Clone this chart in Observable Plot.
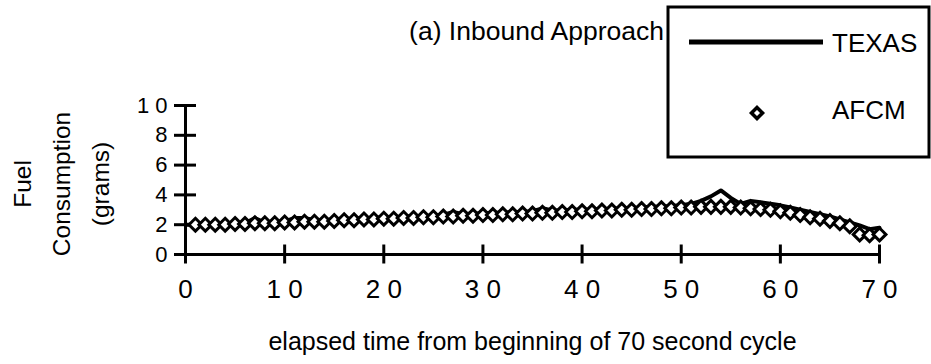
<!DOCTYPE html>
<html><head><meta charset="utf-8">
<script src="https://cdn.jsdelivr.net/npm/d3@7"></script>
<script src="https://cdn.jsdelivr.net/npm/@observablehq/plot@0.6"></script>
<style>html,body{margin:0;padding:0;background:#fff}</style>
</head><body><div id="chart"></div>
<script>
const titleText = "(a) Inbound Approach";
const xTitle = "elapsed time from beginning of 70 second cycle";
const yTitle = "Fuel\nConsumption\n(grams)";
const seriesNames = ["TEXAS", "AFCM"];
const xTicks = [0, 10, 20, 30, 40, 50, 60, 70];
const yTicks = [0, 2, 4, 6, 8, 10];

const texasTime = [0,1,2,3,4,5,6,7,8,9,10,11,12,13,14,15,16,17,18,19,20,21,22,23,24,25,26,27,28,29,30,31,32,33,34,35,36,37,38,39,40,41,42,43,44,45,46,47,48,49,50,51,52,53,54,55,56,57,58,59,60,61,62,63,64,65,66,67,68,69,70];
const texasFuel = [2.0,2.0,2.0,2.0,2.05,2.1,2.1,2.45,2.15,2.15,2.2,2.45,2.45,2.3,2.3,2.35,2.35,2.4,2.45,2.45,2.5,2.5,2.55,2.55,2.6,2.6,2.65,2.85,2.7,2.75,2.75,2.8,2.8,2.85,2.85,2.9,3.1,2.95,2.95,3.0,3.0,3.0,3.05,3.05,3.1,3.1,3.15,3.2,3.2,3.25,3.3,3.4,3.6,3.9,4.3,3.8,3.4,3.6,3.5,3.4,3.3,3.15,3.0,2.85,2.7,2.55,2.35,2.15,1.95,1.7,1.8];

const afcmTime = [1,2,3,4,5,6,7,8,9,10,11,12,13,14,15,16,17,18,19,20,21,22,23,24,25,26,27,28,29,30,31,32,33,34,35,36,37,38,39,40,41,42,43,44,45,46,47,48,49,50,51,52,53,54,55,56,57,58,59,60,61,62,63,64,65,66,67,68,69,70];
const afcmFuel = [2.0,2.0,2.0,2.0,2.05,2.05,2.1,2.1,2.1,2.15,2.15,2.2,2.2,2.2,2.25,2.3,2.3,2.35,2.35,2.4,2.4,2.45,2.45,2.5,2.5,2.55,2.55,2.6,2.6,2.65,2.65,2.7,2.7,2.75,2.75,2.8,2.8,2.85,2.85,2.9,2.9,2.95,2.95,3.0,3.0,3.05,3.05,3.1,3.1,3.15,3.15,3.2,3.2,3.2,3.2,3.15,3.1,3.05,3.0,2.9,2.8,2.65,2.5,2.4,2.25,2.1,1.9,1.35,1.3,1.35];

const texas = texasTime.map((t, i) => ({t, v: texasFuel[i]}));
const afcm = afcmTime.map((t, i) => ({t, v: afcmFuel[i]}));
const spaced = d => String(d).split("").join(" ");
const FONT = "'Liberation Sans', Arial, Helvetica, sans-serif";

const chart = Plot.plot({
  width: 931, height: 364,
  marginLeft: 185, marginRight: 52, marginTop: 105, marginBottom: 110,
  style: {fontFamily: FONT, background: "white", color: "black", overflow: "visible"},
  x: {domain: [0, 70]},
  y: {domain: [0, 10]},
  marks: [
    Plot.axisX({ticks: xTicks, tickSize: 19, dy: -9.5, strokeWidth: 3, tickFormat: () => "", label: null}),
    Plot.axisX({ticks: xTicks, tickSize: 0, tickPadding: 25, fontSize: 26, tickFormat: spaced, label: null}),
    Plot.axisY({ticks: yTicks, tickSize: 22, dx: 11, strokeWidth: 3, tickFormat: () => "", label: null}),
    Plot.axisY({ticks: yTicks, tickSize: 0, tickPadding: 18, fontSize: 22, tickFormat: spaced, label: null}),
    Plot.ruleY([0], {strokeWidth: 3}),
    Plot.ruleX([0], {strokeWidth: 3}),
    Plot.line(texas, {x: "t", y: "v", stroke: "black", strokeWidth: 4}),
    Plot.dot(afcm, {x: "t", y: "v", symbol: "diamond2", r: 5.8, fill: "white", stroke: "black", strokeWidth: 3}),
    Plot.text([xTitle], {frameAnchor: "bottom", dy: 87, lineAnchor: "middle", fontSize: 25, text: d => d}),
    Plot.text([yTitle], {frameAnchor: "left", dx: -128, dy: 4, rotate: -90, textAnchor: "middle", lineAnchor: "middle", fontSize: 24.5, lineHeight: 1.58, text: d => d})
  ]
});
document.getElementById("chart").appendChild(chart);

// title and legend
const svg = d3.select(chart);
const g = svg.append("g").attr("font-family", FONT).attr("fill", "black").attr("text-anchor", "start");
g.append("text").attr("x", 664).attr("y", 33).attr("text-anchor", "end")
  .attr("dominant-baseline", "middle").attr("font-size", 26.5).text(titleText);
g.append("rect").attr("x", 668).attr("y", 7).attr("width", 261).attr("height", 150)
  .attr("fill", "none").attr("stroke", "black").attr("stroke-width", 3);
g.append("line").attr("x1", 689).attr("x2", 823).attr("y1", 42).attr("y2", 42)
  .attr("stroke", "black").attr("stroke-width", 5);
g.append("text").attr("x", 832).attr("y", 45).attr("text-anchor", "start").attr("dominant-baseline", "middle")
  .attr("font-size", 26).text(seriesNames[0]);
g.append("path").attr("transform", "translate(757,113)")
  .attr("d", d3.symbol(d3.symbolDiamond2, Math.PI * 25)())
  .attr("fill", "white").attr("stroke", "black").attr("stroke-width", 3.5);
g.append("text").attr("x", 832).attr("y", 112).attr("text-anchor", "start").attr("dominant-baseline", "middle")
  .attr("font-size", 26).text(seriesNames[1]);
</script>
</body></html>
